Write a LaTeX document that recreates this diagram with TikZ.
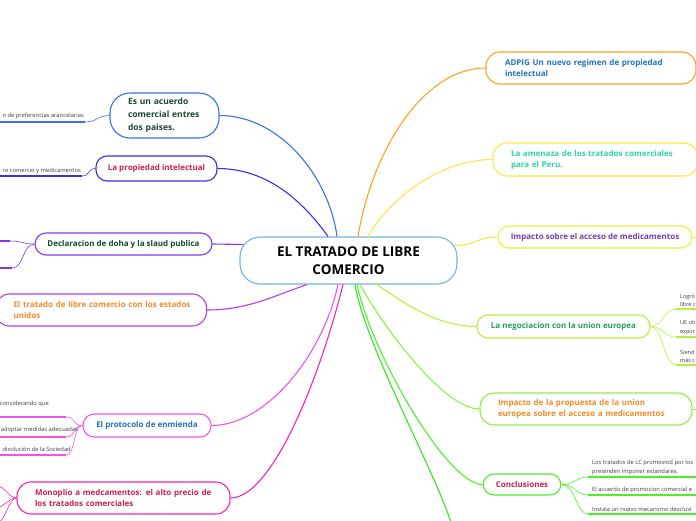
\documentclass[tikz,border=0pt]{standalone}
\usepackage{fontspec}
\setmainfont{Open Sans}
\definecolor{cBlue}{HTML}{3A6FF0}
\definecolor{cIndigo}{HTML}{3B2DE6}
\definecolor{cPurple}{HTML}{8436EE}
\definecolor{cViolet}{HTML}{B13CF2}
\definecolor{cMagenta}{HTML}{EE55EE}
\definecolor{cPink}{HTML}{F922B0}
\definecolor{cOrange}{HTML}{FFA024}
\definecolor{cYellow}{HTML}{FFE448}
\definecolor{cLime}{HTML}{E2F236}
\definecolor{cLgreen}{HTML}{B4F03C}
\definecolor{cGreenA}{HTML}{8EEE44}
\definecolor{cGreenB}{HTML}{4EEE2A}
\definecolor{cGreenC}{HTML}{33E61E}
\definecolor{cCenter}{HTML}{74B2E2}
\definecolor{tDark}{HTML}{17492B}
\definecolor{tRed}{HTML}{CC1F4A}
\definecolor{tOrange}{HTML}{F28A26}
\definecolor{tBlue}{HTML}{1F73B8}
\definecolor{tTeal}{HTML}{2CD4A6}
\definecolor{tPurple}{HTML}{7A3CA8}
\definecolor{tGreen}{HTML}{23A058}
\definecolor{tGray}{HTML}{3A3A3A}
\newcommand\mmlbl{\bfseries\fontsize{8}{11}\selectfont}
\begin{document}
\begin{tikzpicture}[x=1pt,y=-1pt,
  box/.style={draw, rounded corners=11pt, line width=1.1pt, fill=white, font=\mmlbl, inner xsep=18pt, inner ysep=2pt},
  single/.style={inner xsep=6pt},
  conn/.style={line width=1.1pt},
  subc/.style={line width=0.6pt},
  ul/.style={line width=1.8pt},
  subt/.style={font=\fontsize{5.8}{8}\selectfont, text=tGray, inner sep=0pt, align=left}]
\useasboundingbox (0,0) rectangle (696,520);
\clip (0,0) rectangle (696,520);

% central node
\node[box, draw=cCenter, rounded corners=20pt, minimum width=217pt, minimum height=47pt,
      font=\bfseries\fontsize{13.5}{18}\selectfont, align=center, inner xsep=5pt] (c) at (348.5,260.5) {EL TRATADO DE LIBRE\\COMERCIO};

% left nodes
\node[box, draw=cBlue, text=tDark, rounded corners=20pt, minimum width=109pt, minimum height=45pt, text width=73pt, align=left,
      font=\bfseries\fontsize{8.5}{13}\selectfont] (n1) at (164.5,115.5) {\mbox{Es un acuerdo}\\\mbox{comercial entres}\\\mbox{dos paises.}};
\node[box, single, draw=cIndigo, text=tRed, minimum width=121pt, minimum height=25pt] (n2) at (156.5,168.5) {La propiedad intelectual};
\node[box, single, draw=cPurple, text=tDark, minimum width=177pt, minimum height=22pt] (n3) at (123.5,244) {Declaracion de doha y la slaud publica};
\node[box, draw=cViolet, text=tOrange, rounded corners=14pt, minimum width=211pt, minimum height=32pt, text width=175pt, align=left,
      inner xsep=17pt] (n4) at (101,310) {\mbox{El tratado de libre comercio con los estados}\\unidos};
\node[box, single, draw=cMagenta, text=tBlue, minimum width=128pt, minimum height=23pt] (n5) at (147,425.5) {El protocolo de enmienda};
\node[box, draw=cPink, text=tRed, rounded corners=14pt, minimum width=213pt, minimum height=32pt, text width=177pt, align=left] (n6) at (123.5,498) {\mbox{Monoplio a medcamentos: el alto precio de}\\los tratados comerciales};

% right nodes
\node[box, draw=cOrange, text=tBlue, rounded corners=14pt, minimum width=208pt, minimum height=32pt, text width=172pt, align=left,
      inner xsep=19pt] (n7) at (591,68) {\mbox{ADPIG Un nuevo regimen de propiedad}\\intelectual};
\node[box, draw=cYellow, text=tTeal, rounded corners=14pt, minimum width=205pt, minimum height=33pt, text width=169pt, align=left] (n8) at (595.5,159.5) {\mbox{La amenaza de los tratados comerciales}\\para el Peru.};
\node[box, single, draw=cLime, text=tPurple, minimum width=194pt, minimum height=22pt] (n9) at (595,237) {Impacto sobre el acceso de medicamentos};
\node[box, single, draw=cLgreen, text=tGreen, minimum width=173pt, minimum height=23pt] (n10) at (563.5,326.5) {La negociacion con la union europea};
\node[box, draw=cGreenA, text=tOrange, rounded corners=14pt, minimum width=212pt, minimum height=32pt, text width=176pt, align=left] (n11) at (586,409) {\mbox{Impacto de la propuesta de la union}\\\mbox{europea sobre el acceso a medicamentos}};
\node[box, single, draw=cGreenB, text=tRed, minimum width=78pt, minimum height=21pt, inner xsep=4pt] (n12) at (522,484.5) {Conclusiones};

% anchor points on the central node
\coordinate (e1) at ([xshift=-11.5pt]c.north);
\coordinate (e2) at ([xshift=-20.5pt]c.north);
\coordinate (e7) at ([xshift=9.5pt]c.north);
\coordinate (e8) at ([xshift=19.5pt]c.north);
\coordinate (e3) at ([shift={(4pt,16pt)}]c.west);
\coordinate (e9) at ([shift={(-3pt,15pt)}]c.east);
\coordinate (e4) at ([xshift=-41.5pt]c.south);
\coordinate (e5) at ([xshift=-10.5pt]c.south);
\coordinate (e6) at ([xshift=-5.5pt]c.south);
\coordinate (e13) at ([xshift=6.5pt]c.south);
\coordinate (e12) at ([xshift=8.5pt]c.south);
\coordinate (e11) at ([xshift=11.5pt]c.south);
\coordinate (e10) at ([shift={(26.5pt,1pt)}]c.south);
\coordinate (off) at (452,525);

% main connectors
\draw[conn, cBlue] (n1.east) .. controls +(60,0) and +(-8,-60) .. (e1);
\draw[conn, cIndigo] (n2.east) .. controls +(50,0) and +(-25,-35) .. (e2);
\draw[conn, cPurple] (n3.east) .. controls +(15,0) and +(-15,0) .. (e3);
\draw[conn, cViolet] (n4.east) .. controls +(40,0) and +(-35,12) .. (e4);
\draw[conn, cMagenta] (n5.east) .. controls +(55,0) and +(-15,70) .. (e5);
\draw[conn, cPink] (n6.east) .. controls +(40,0) and +(-25,100) .. (e6);
\draw[conn, cOrange] (n7.west) .. controls +(-60,0) and +(15,-90) .. (e7);
\draw[conn, cYellow] (n8.west) .. controls +(-55,0) and +(20,-35) .. (e8);
\draw[conn, cLime] (n9.west) .. controls +(-20,0) and +(20,0) .. (e9);
\draw[conn, cLgreen] (n10.west) .. controls +(-45,0) and +(20,12) .. (e10);
\draw[conn, cGreenA] (n11.west) .. controls +(-35,0) and +(25,45) .. (e11);
\draw[conn, cGreenB] (n12.west) .. controls +(-35,0) and +(15,70) .. (e12);
\draw[conn, cGreenC] (e13) .. controls +(10,60) and +(-20,-60) .. (off);

% left sub-branches
\coordinate (u1a) at (85,122); \coordinate (u1b) at (-3,122);
\draw[subc, cBlue] (n1.west) .. controls +(-12,0) and +(12,0) .. (u1a);
\draw[ul, cBlue] (u1a) -- (u1b);
\node[subt, anchor=base east] (t1) at (84,117) {n de preferencias arancelarias};

\coordinate (u2a) at (82,176); \coordinate (u2b) at (-3,176);
\draw[subc, cIndigo] (n2.west) .. controls +(-8,0) and +(8,0) .. (u2a);
\draw[ul, cIndigo] (u2a) -- (u2b);
\node[subt, anchor=base east] (t2) at (81,172) {re comercio y medicamentos};

\coordinate (u3a) at (10,241); \coordinate (u3b) at (-3,241);
\coordinate (u3c) at (12,268); \coordinate (u3d) at (-3,268);
\draw[subc, cPurple] (n3.west) .. controls +(-12,0) and +(12,0) .. (u3a);
\draw[subc, cPurple] (n3.west) .. controls +(-12,0) and +(12,0) .. (u3c);
\draw[ul, cPurple] (u3a) -- (u3b);
\draw[ul, cPurple] (u3c) -- (u3d);

\coordinate (u5a) at (66,417); \coordinate (u5b) at (-3,417);
\coordinate (u5c) at (66,437); \coordinate (u5d) at (-3,437);
\coordinate (u5e) at (66,455); \coordinate (u5f) at (-3,455);
\draw[subc, cMagenta] (n5.west) .. controls +(-10,0) and +(10,0) .. (u5a);
\draw[subc, cMagenta] (n5.west) .. controls +(-10,0) and +(10,0) .. (u5c);
\draw[subc, cMagenta] (n5.west) .. controls +(-10,0) and +(10,0) .. (u5e);
\draw[ul, cMagenta] (u5a) -- (u5b);
\draw[ul, cMagenta] (u5c) -- (u5d);
\draw[ul, cMagenta] (u5e) -- (u5f);
\node[subt, anchor=base east] (t5a) at (49,405) {considerando que};
\node[subt, anchor=base east] (t5b) at (78,431) {adoptar medidas adecuadas};
\node[subt, anchor=base east] (t5c) at (71,451) {disolución de la Sociedad};

\coordinate (u6a) at (-3,486); \coordinate (u6b) at (-3,507); \coordinate (u6c) at (-3,523);
\draw[subc, cPink] (n6.west) .. controls +(-8,0) and +(8,0) .. (u6a);
\draw[subc, cPink] (n6.west) .. controls +(-8,0) and +(8,0) .. (u6b);
\draw[subc, cPink] (n6.west) .. controls +(-8,0) and +(8,0) .. (u6c);

% right sub-branches
\draw[subc, cLime] (n9.east) -- +(10,0);
\draw[subc, cGreenA] (n11.east) -- +(10,0);

\coordinate (v1a) at (676,309); \coordinate (v1b) at (700,309);
\coordinate (v2a) at (676,337); \coordinate (v2b) at (700,337);
\coordinate (v3a) at (676,365); \coordinate (v3b) at (700,365);
\draw[subc, cLgreen] (n10.east) .. controls +(12,0) and +(-12,0) .. (v1a);
\draw[subc, cLgreen] (n10.east) .. controls +(12,0) and +(-12,0) .. (v2a);
\draw[subc, cLgreen] (n10.east) .. controls +(12,0) and +(-12,0) .. (v3a);
\draw[ul, cLgreen] (v1a) -- (v1b);
\draw[ul, cLgreen] (v2a) -- (v2b);
\draw[ul, cLgreen] (v3a) -- (v3b);
\node[subt, anchor=south west, font=\fontsize{5.5}{8.5}\selectfont] (r1) at (680,307) {Logró\\libre c};
\node[subt, anchor=south west, font=\fontsize{5.5}{8.5}\selectfont] (r2) at (680,335) {UE ob\\expor};
\node[subt, anchor=south west, font=\fontsize{5.5}{8.5}\selectfont] (r3) at (680,363) {Siend\\más c};

\coordinate (w1a) at (588,477); \coordinate (w1b) at (700,477);
\coordinate (w2a) at (588,495); \coordinate (w2b) at (700,495);
\coordinate (w3a) at (588,514); \coordinate (w3b) at (700,514);
\draw[subc, cGreenB] (n12.east) .. controls +(14,0) and +(-12,0) .. (w1a);
\draw[subc, cGreenB] (n12.east) .. controls +(14,0) and +(-12,0) .. (w2a);
\draw[subc, cGreenB] (n12.east) .. controls +(14,0) and +(-12,0) .. (w3a);
\draw[ul, cGreenB] (w1a) -- (w1b);
\draw[ul, cGreenB] (w2a) -- (w2b);
\draw[ul, cGreenB] (w3a) -- (w3b);
\node[subt, anchor=south west, font=\fontsize{5.8}{9}\selectfont] (k1) at (592,475) {Los tratados de LC promoviod por los\\pretenden imponer estandares.};
\node[subt, anchor=south west] (k2) at (592,493) {El acuerdo de promocion comercial e};
\node[subt, anchor=south west] (k3) at (592,512) {Instala un nuevo mecarismo dexclusi};
\end{tikzpicture}
\end{document}
